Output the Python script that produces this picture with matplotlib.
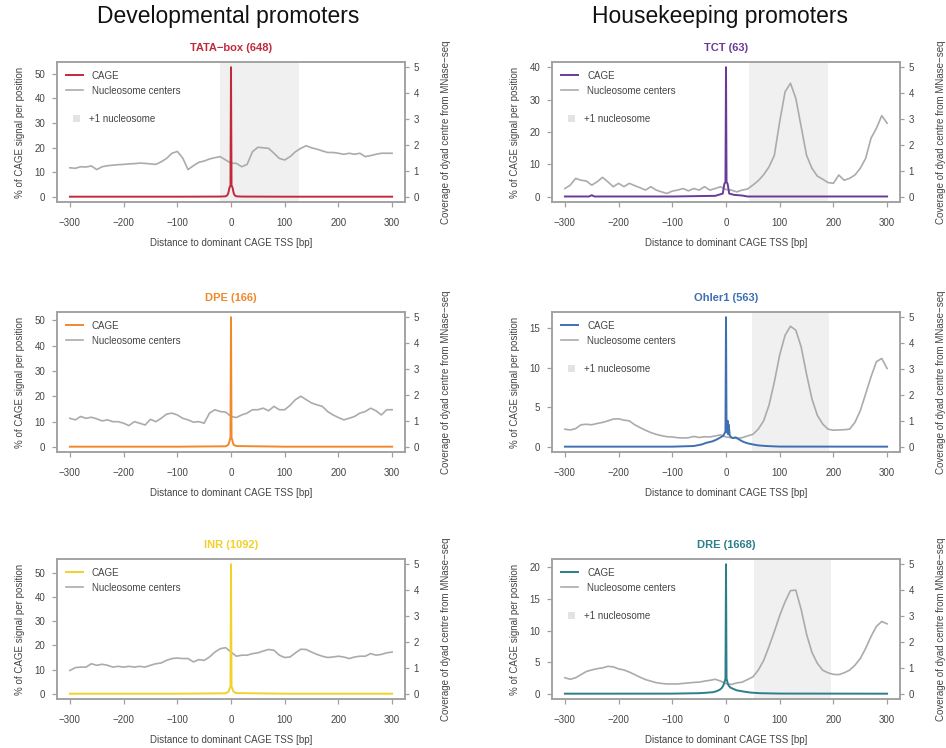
import numpy as np
import matplotlib
matplotlib.use("Agg")
import matplotlib.pyplot as plt
from matplotlib.lines import Line2D
from matplotlib.patches import Patch

plt.rcParams['font.family'] = ['Liberation Sans', 'DejaVu Sans']

# ---------------- data ----------------
positions = np.arange(-300, 301, 10)   # nucleosome profile grid (bp)

nuc_tata = [1.12, 1.10, 1.16, 1.15, 1.19, 1.05, 1.16, 1.20, 1.22, 1.24,
            1.25, 1.27, 1.28, 1.30, 1.29, 1.27, 1.25, 1.35, 1.48, 1.68,
            1.75, 1.50, 1.05, 1.20, 1.33, 1.38, 1.46, 1.51, 1.55, 1.42,
            1.30, 1.29, 1.16, 1.25, 1.74, 1.91, 1.89, 1.87, 1.68, 1.48,
            1.42, 1.55, 1.74, 1.87, 1.97, 1.89, 1.84, 1.77, 1.71, 1.71,
            1.68, 1.64, 1.68, 1.64, 1.68, 1.55, 1.59, 1.64, 1.68, 1.68, 1.68]
nuc_tct = [0.32, 0.45, 0.71, 0.64, 0.61, 0.45, 0.58, 0.75, 0.58, 0.39,
           0.52, 0.39, 0.52, 0.43, 0.35, 0.26, 0.39, 0.26, 0.19, 0.13,
           0.22, 0.26, 0.32, 0.23, 0.32, 0.26, 0.39, 0.26, 0.32, 0.39,
           0.28, 0.26, 0.19, 0.26, 0.30, 0.45, 0.62, 0.85, 1.15, 1.60,
           2.90, 4.05, 4.38, 3.80, 2.70, 1.60, 1.10, 0.80, 0.68, 0.55,
           0.52, 0.84, 0.64, 0.71, 0.84, 1.10, 1.48, 2.26, 2.64, 3.13, 2.84]
nuc_dpe = [1.10, 1.04, 1.17, 1.10, 1.14, 1.08, 1.00, 1.04, 0.97, 0.97,
           0.91, 0.82, 0.97, 0.91, 0.84, 1.06, 0.97, 1.10, 1.26, 1.30,
           1.23, 1.10, 1.04, 0.95, 0.97, 0.91, 1.30, 1.43, 1.36, 1.34,
           1.17, 1.13, 1.23, 1.30, 1.43, 1.43, 1.49, 1.39, 1.56, 1.43,
           1.43, 1.60, 1.82, 1.95, 1.82, 1.69, 1.62, 1.56, 1.36, 1.23,
           1.13, 1.04, 1.10, 1.17, 1.30, 1.36, 1.49, 1.39, 1.23, 1.43, 1.43]
nuc_ohler = [0.68, 0.65, 0.70, 0.85, 0.87, 0.85, 0.90, 0.94, 1.00, 1.07,
             1.08, 1.03, 1.00, 0.85, 0.74, 0.64, 0.55, 0.48, 0.43, 0.39,
             0.38, 0.35, 0.34, 0.35, 0.40, 0.36, 0.39, 0.38, 0.42, 0.46,
             0.38, 0.35, 0.33, 0.35, 0.42, 0.48, 0.68, 1.00, 1.60, 2.50,
             3.55, 4.30, 4.65, 4.50, 3.85, 2.80, 1.85, 1.22, 0.88, 0.68,
             0.64, 0.65, 0.66, 0.68, 0.94, 1.39, 2.04, 2.70, 3.28, 3.41, 3.02]
nuc_inr = [0.90, 1.01, 1.03, 1.03, 1.16, 1.10, 1.14, 1.10, 1.03, 1.06,
           1.03, 1.06, 1.03, 1.06, 1.03, 1.10, 1.16, 1.19, 1.29, 1.36,
           1.38, 1.36, 1.36, 1.23, 1.32, 1.29, 1.42, 1.61, 1.74, 1.78,
           1.61, 1.45, 1.49, 1.49, 1.55, 1.58, 1.65, 1.71, 1.68, 1.49,
           1.40, 1.42, 1.58, 1.72, 1.71, 1.61, 1.52, 1.45, 1.40, 1.42,
           1.45, 1.42, 1.36, 1.42, 1.45, 1.45, 1.55, 1.49, 1.52, 1.58, 1.61]
nuc_dre = [0.62, 0.56, 0.62, 0.74, 0.86, 0.92, 0.97, 1.00, 1.06, 1.04,
           0.96, 0.92, 0.84, 0.74, 0.64, 0.55, 0.49, 0.43, 0.40, 0.38,
           0.38, 0.38, 0.40, 0.42, 0.44, 0.45, 0.49, 0.52, 0.56, 0.49,
           0.39, 0.36, 0.42, 0.45, 0.55, 0.65, 0.91, 1.28, 1.82, 2.40,
           3.02, 3.55, 3.98, 4.00, 3.25, 2.30, 1.60, 1.18, 0.91, 0.81,
           0.75, 0.74, 0.81, 0.91, 1.10, 1.36, 1.75, 2.21, 2.60, 2.79, 2.70]

# CAGE signal (% per position), sparse positions near the TSS
cage_x_tata = [-300, -100, -20, -10, -7, -5, -4, -3, -2, -1, 0, 1, 2, 3, 4, 5, 7, 10, 20, 100, 300]
cage_y_tata = [0.05, 0.05, 0.1, 0.2, 0.6, 1.5, 2.5, 3.6, 4.2, 4.5, 52.7, 4.5, 4.2, 3.6, 2.5, 1.5, 0.6, 0.2, 0.1, 0.05, 0.05]
cage_x_tct = [-300, -255, -250, -245, -100, -20, -6, -4, -3, -2, -1, 0, 1, 2, 3, 4, 6, 15, 30, 40, 300]
cage_y_tct = [0.1, 0.1, 0.5, 0.1, 0.1, 0.3, 1.0, 3.0, 4.0, 4.3, 4.5, 40.0, 4.5, 4.3, 4.0, 3.0, 1.0, 0.6, 0.4, 0.1, 0.1]
cage_x_dpe = [-300, -100, -10, -5, -3, -2, -1, 0, 1, 2, 3, 5, 10, 100, 300]
cage_y_dpe = [0.05, 0.05, 0.2, 0.8, 2.0, 3.0, 3.4, 51.3, 3.4, 3.0, 2.0, 0.8, 0.3, 0.05, 0.05]
cage_x_ohler = [-300, -100, -60, -45, -37, -25, -18, -10, -5, -2, -1, 0, 1, 2, 3, 4, 5, 7, 10, 13, 18, 25, 32, 40, 50, 60, 75, 100, 300]
cage_y_ohler = [0.02, 0.02, 0.1, 0.3, 0.5, 0.7, 0.9, 1.2, 1.4, 1.8, 2.0, 16.4, 2.2, 1.8, 3.3, 1.6, 2.8, 1.4, 1.2, 1.1, 1.2, 0.9, 0.64, 0.45, 0.3, 0.18, 0.1, 0.03, 0.02]
cage_x_inr = [-300, -100, -10, -5, -3, -2, -1, 0, 1, 2, 3, 5, 10, 100, 300]
cage_y_inr = [0.05, 0.05, 0.2, 0.8, 1.8, 2.5, 2.8, 53.5, 2.8, 2.5, 1.8, 0.8, 0.3, 0.05, 0.05]
cage_x_dre = [-300, -100, -50, -35, -24, -18, -12, -8, -5, -3, -2, -1, 0, 1, 2, 3, 5, 8, 13, 20, 32, 45, 63, 100, 300]
cage_y_dre = [0.02, 0.03, 0.1, 0.18, 0.26, 0.4, 0.63, 0.9, 1.3, 1.8, 2.1, 2.4, 20.5, 2.4, 2.1, 1.7, 1.3, 1.0, 0.8, 0.55, 0.37, 0.2, 0.1, 0.04, 0.02]

titles = ["TATA\u2212box (648)", "TCT (63)", "DPE (166)", "Ohler1 (563)", "INR (1092)", "DRE (1668)"]
colors = ["#C22A3C", "#6B3A98", "#F0892A", "#3F6FB3", "#F2D12A", "#2C7E8A"]
left_ticks = [[0, 10, 20, 30, 40, 50], [0, 10, 20, 30, 40], [0, 10, 20, 30, 40, 50],
              [0, 5, 10, 15], [0, 10, 20, 30, 40, 50], [0, 5, 10, 15, 20]]
nuc_spans = [(-20, 127), (42, 190), None, (49, 192), None, (52, 196)]
col_headers = ["Developmental promoters", "Housekeeping promoters"]

nucs = [nuc_tata, nuc_tct, nuc_dpe, nuc_ohler, nuc_inr, nuc_dre]
cage_xs = [cage_x_tata, cage_x_tct, cage_x_dpe, cage_x_ohler, cage_x_inr, cage_x_dre]
cage_ys = [cage_y_tata, cage_y_tct, cage_y_dpe, cage_y_ohler, cage_y_inr, cage_y_dre]

# ---------------- layout ----------------
W, H = 946, 748
fig = plt.figure(figsize=(W / 100, H / 100), dpi=100)

col_left = [57, 552]
row_top = [62, 312, 559]
ax_w, ax_h = 348, 140

TXT = "#454545"
SPINE = "#A0A0A0"
NUC = "#ABABAB"

for i in range(6):
    r, c = divmod(i, 2)
    l = col_left[c] / W
    b = 1 - (row_top[r] + ax_h) / H
    ax = fig.add_axes([l, b, ax_w / W, ax_h / H])
    ax2 = ax.twinx()
    ax.set_zorder(ax2.get_zorder() + 1)
    ax.patch.set_visible(False)

    span = nuc_spans[i]
    if span is not None:
        ax2.axvspan(span[0], span[1], color="#F0F0F0", lw=0, zorder=0)
    ax2.plot(positions, nucs[i], color=NUC, lw=1.2, zorder=2)
    ax.plot(cage_xs[i], cage_ys[i], color=colors[i], lw=1.4, zorder=3)

    ax.set_xlim(-324, 324)
    ymax = max(cage_ys[i])
    ax.set_ylim(-0.04 * ymax, 1.04 * ymax)
    ax.set_yticks(left_ticks[i])
    ax.set_xticks([-300, -200, -100, 0, 100, 200, 300])
    ax2.set_ylim(-0.2, 5.2)
    ax2.set_yticks([0, 1, 2, 3, 4, 5])

    for a in (ax, ax2):
        for s in a.spines.values():
            s.set_color(SPINE)
            s.set_linewidth(1.1)
    ax.tick_params(axis="x", length=3.5, width=0.9, color=SPINE, labelcolor=TXT, labelsize=7, pad=8)
    ax.tick_params(axis="y", length=3.5, width=0.9, color=SPINE, labelcolor=TXT, labelsize=7, pad=5)
    ax2.tick_params(axis="y", length=3, width=0.9, color=SPINE, labelcolor=TXT, labelsize=7, pad=3)

    ax.set_title(titles[i], color=colors[i], fontweight="bold", fontsize=8, pad=8)
    ax.set_xlabel("Distance to dominant CAGE TSS [bp]", fontsize=7, color=TXT, labelpad=7)
    ax.set_ylabel("% of CAGE signal per position", fontsize=7, color=TXT, labelpad=7)
    ax2.set_ylabel("Coverage of dyad centre from MNase\u2212seq", fontsize=7, color=TXT, labelpad=16)

    handles = [Line2D([], [], color=colors[i], lw=1.4), Line2D([], [], color=NUC, lw=1.2)]
    leg1 = ax.legend(handles, ["CAGE", "Nucleosome centers"], loc="upper left",
                     bbox_to_anchor=(0.0, 1.0), frameon=False, fontsize=7,
                     handlelength=1.8, handletextpad=0.9, labelspacing=0.5,
                     borderaxespad=0.5, borderpad=0.4)
    for t in leg1.get_texts():
        t.set_color(TXT)
    if span is not None:
        ax.add_artist(leg1)
        leg2 = ax.legend([Patch(facecolor="#E3E3E3", edgecolor="none")], ["+1 nucleosome"],
                         loc="upper left", bbox_to_anchor=(0.02, 0.69), frameon=False,
                         fontsize=7, handlelength=0.8, handleheight=0.8,
                         handletextpad=0.9, borderaxespad=0.5, borderpad=0.4)
        for t in leg2.get_texts():
            t.set_color(TXT)

fig.text(228 / W, 1 - 16 / H, col_headers[0], ha="center", va="center", fontsize=16.5, color="#111111")
fig.text(720 / W, 1 - 16 / H, col_headers[1], ha="center", va="center", fontsize=16.5, color="#111111")

fig.savefig("out.png", dpi=100)
